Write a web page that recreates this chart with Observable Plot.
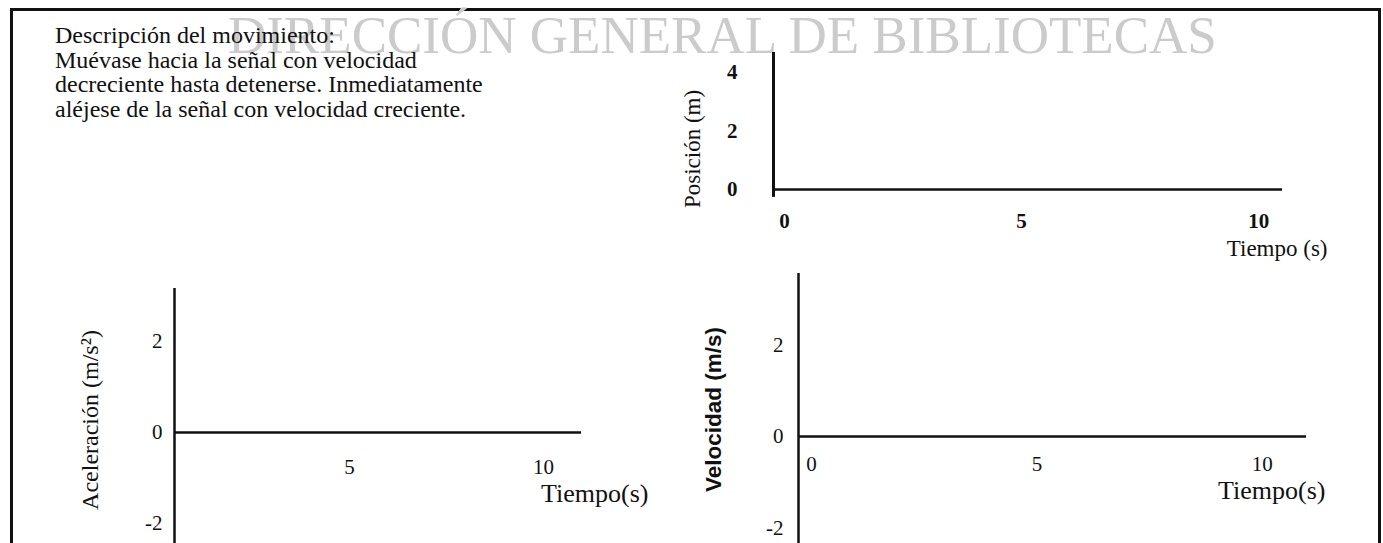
<!DOCTYPE html>
<html>
<head>
<meta charset="utf-8">
<script src="https://cdn.jsdelivr.net/npm/d3@7"></script>
<script src="https://cdn.jsdelivr.net/npm/@observablehq/plot@0.6"></script>
<style>
  html, body { margin: 0; padding: 0; background: #fff; width: 1383px; height: 543px; overflow: hidden; }
  #page { position: relative; width: 1383px; height: 543px; overflow: hidden; font-family: "Liberation Serif", "Times New Roman", serif; color: #111; }
  #frame { position: absolute; left: 10px; top: 8px; width: 1371px; height: 700px; border: 3px solid #111; border-bottom: none; box-sizing: border-box; }
  #watermark { position: absolute; left: 228px; top: 9px; font-size: 53px; line-height: 53px; color: #cbcbcb; white-space: nowrap; }
  #desc { position: absolute; left: 55px; top: 23px; font-size: 24px; line-height: 24.5px; white-space: nowrap; }
  .chart { position: absolute; }
  .chart svg { display: block; }
</style>
</head>
<body>
<div id="page">
  <div id="frame"></div>
  <div id="watermark"></div>
  <div id="desc"></div>
</div>
<script>
// ---- texts ----
const watermarkText = "DIRECCIÓN GENERAL DE BIBLIOTECAS";
const descLines = [
  "Descripción del movimiento:",
  "Muévase hacia la señal con velocidad",
  "decreciente hasta detenerse. Inmediatamente",
  "aléjese de la señal con velocidad creciente."
];

// ---- shared ----
const baseline = [0];              // the horizontal (time) axis sits at value 0

// ---- Posición chart ----
const posLabel = "Posición (m)";
const posTimeLabel = "Tiempo (s)";
const posTimeTicks = [0, 5, 10];
const posValueTicks = [0, 2, 4];
const posTimeDomain = [-0.23, 10.5];
const posValueDomain = [0, 4.68];
const posAxisExtent = [-0.27, 4.68];

// ---- Aceleración chart ----
const accLabel = "Aceleración (m/s²)";
const accTimeLabel = "Tiempo(s)";
const accTimeTicks = [5, 10];
const accValueTicks = [-2, 0, 2];
const accTimeDomain = [0.49, 10.98];
const accValueDomain = [-2.44, 3.16];

// ---- Velocidad chart ----
const velLabel = "Velocidad (m/s)";
const velTimeLabel = "Tiempo(s)";
const velTimeTicks = [0, 5, 10];
const velValueTicks = [-2, 0, 2];
const velTimeDomain = [-0.29, 10.98];
const velValueDomain = [-2.34, 3.56];

// ---- page text ----
document.getElementById("watermark").textContent = watermarkText;
document.getElementById("desc").innerHTML = descLines.map(l => `<div>${l}</div>`).join("");

const serif = "'Liberation Serif', 'Times New Roman', serif";
const sans = "'Liberation Sans', Arial, sans-serif";
const baseStyle = { fontFamily: serif, fontSize: "21px", color: "#111", background: "transparent", overflow: "visible" };
const fmt = d => String(d);

function place(svg, left, top, w, h) {
  const d = document.createElement("div");
  d.className = "chart";
  d.style.left = left + "px";
  d.style.top = top + "px";
  d.style.width = w + "px";
  d.style.height = h + "px";
  d.append(svg);
  document.getElementById("page").append(d);
}

// Posición vs tiempo (top right)
place(Plot.plot({
  width: 720, height: 240,
  marginLeft: 133, marginRight: 78, marginTop: 22, marginBottom: 81,
  x: { domain: posTimeDomain },
  y: { domain: posValueDomain },
  style: baseStyle,
  marks: [
    Plot.ruleY(baseline, { stroke: "#111", strokeWidth: 2.5 }),
    Plot.ruleX([posTimeDomain[0]], { y1: posAxisExtent[0], y2: posAxisExtent[1], stroke: "#111", strokeWidth: 3 }),
    Plot.axisY(posValueTicks, { tickSize: 0, tickPadding: 36, fontWeight: "bold", tickFormat: fmt, label: null }),
    Plot.axisX(posTimeTicks, { tickSize: 0, tickPadding: 24, fontWeight: "bold", tickFormat: fmt, label: null }),
    Plot.text([posTimeLabel], { text: d => d, x: () => posTimeDomain[1], y: () => baseline[0], textAnchor: "end", dx: 45, dy: 59, fontSize: 23 }),
    Plot.text([posLabel], { text: d => d, frameAnchor: "left", textAnchor: "middle", rotate: -90, dx: -81, dy: 28, fontSize: 23 })
  ]
}), 640, 30, 720, 240);

// Aceleración vs tiempo (bottom left)
place(Plot.plot({
  width: 700, height: 273,
  marginLeft: 174, marginRight: 119, marginTop: 18, marginBottom: 0,
  x: { domain: accTimeDomain, axis: null },
  y: { domain: accValueDomain },
  style: baseStyle,
  marks: [
    Plot.ruleY(baseline, { stroke: "#111", strokeWidth: 2.5 }),
    Plot.ruleX([accTimeDomain[0]], { stroke: "#111", strokeWidth: 2.5 }),
    Plot.axisY(accValueTicks, { tickSize: 0, tickPadding: 12, tickFormat: fmt, label: null }),
    Plot.text(accTimeTicks, { x: d => d, y: () => baseline[0], text: fmt, dy: 35 }),
    Plot.text([accTimeLabel], { text: d => d, x: () => accTimeDomain[1], y: () => baseline[0], textAnchor: "end", dx: 67, dy: 61, fontSize: 26 }),
    Plot.text([accLabel], { text: d => d, frameAnchor: "left", textAnchor: "middle", rotate: -90, dx: -84, dy: 4, fontSize: 24 })
  ]
}), 0, 270, 700, 273);

// Velocidad vs tiempo (bottom right)
place(Plot.plot({
  width: 700, height: 283,
  marginLeft: 118, marginRight: 74, marginTop: 13, marginBottom: 0,
  x: { domain: velTimeDomain, axis: null },
  y: { domain: velValueDomain },
  style: baseStyle,
  marks: [
    Plot.ruleY(baseline, { stroke: "#111", strokeWidth: 2.5 }),
    Plot.ruleX([velTimeDomain[0]], { stroke: "#111", strokeWidth: 2.5 }),
    Plot.axisY(velValueTicks, { tickSize: 0, tickPadding: 15, tickFormat: fmt, label: null }),
    Plot.text(velTimeTicks, { x: d => d, y: () => baseline[0], text: fmt, dy: 28 }),
    Plot.text([velTimeLabel], { text: d => d, x: () => velTimeDomain[1], y: () => baseline[0], textAnchor: "end", dx: 19, dy: 54, fontSize: 26 }),
    Plot.text([velLabel], { text: d => d, frameAnchor: "left", textAnchor: "middle", rotate: -90, dx: -85, dy: 1, fontSize: 22.5, fontFamily: sans, fontWeight: "bold" })
  ]
}), 680, 260, 700, 283);
</script>
</body>
</html>
